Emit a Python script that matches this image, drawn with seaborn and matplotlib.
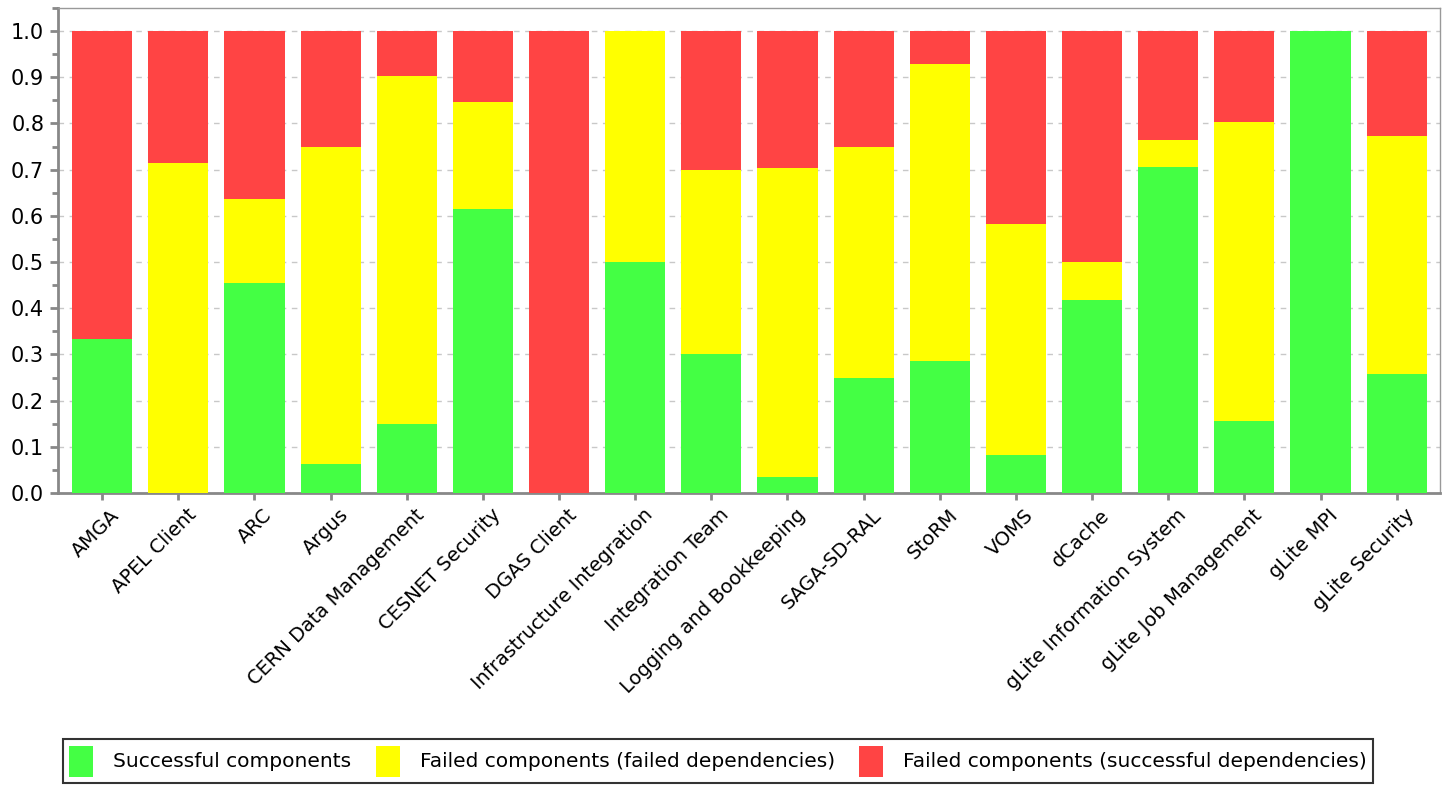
import pandas as pd
import numpy as np
import seaborn as sns
import matplotlib.pyplot as plt
import matplotlib.transforms as mtransforms
from matplotlib.patches import Patch
from matplotlib.ticker import MultipleLocator

# Values (fractions of components per product team)
teams = ['AMGA', 'APEL Client', 'ARC', 'Argus', 'CERN Data Management', 'CESNET Security',
         'DGAS Client', 'Infrastructure Integration', 'Integration Team', 'Logging and Bookkeeping',
         'SAGA-SD-RAL', 'StoRM', 'VOMS', 'dCache', 'gLite Information System',
         'gLite Job Management', 'gLite MPI', 'gLite Security']
successful = [0.333, 0.0, 0.455, 0.0625, 0.15, 0.615, 0.0, 0.5, 0.3, 0.035,
              0.25, 0.286, 0.083, 0.417, 0.706, 0.156, 1.0, 0.258]
failed_deps = [0.0, 0.714, 0.182, 0.6875, 0.753, 0.231, 0.0, 0.5, 0.4, 0.669,
               0.5, 0.643, 0.5, 0.083, 0.059, 0.647, 0.0, 0.515]
failed_ok_deps = [0.667, 0.286, 0.364, 0.25, 0.097, 0.154, 1.0, 0.0, 0.3, 0.296,
                  0.25, 0.071, 0.417, 0.5, 0.235, 0.197, 0.0, 0.227]

labels = ['Successful components', 'Failed components (failed dependencies)',
          'Failed components (successful dependencies)']
colors = ['#44ff44', '#ffff00', '#ff4444']

df = pd.DataFrame({'team': teams, 'ok': successful, 'fdep': failed_deps, 'fok': failed_ok_deps})
df['top_green'] = df['ok']
df['top_yellow'] = df['ok'] + df['fdep']
df['top_red'] = df['top_yellow'] + df['fok']

fig = plt.figure(figsize=(14.47, 7.85), dpi=100)
ax = fig.add_axes([0.0401, 0.372, 0.9551, 0.6178])

# stacked bars: draw cumulative tops from the back to the front
for col, c in [('top_red', colors[2]), ('top_yellow', colors[1]), ('top_green', colors[0])]:
    sns.barplot(data=df, x='team', y=col, color=c, width=0.79, saturation=1,
                edgecolor='none', linewidth=0, ax=ax, zorder=3)

ax.set_xlim(-0.58, 17.57)
ax.set_ylim(0, 1.05)
ax.yaxis.set_major_locator(MultipleLocator(0.1))
ax.yaxis.set_minor_locator(MultipleLocator(0.05))
ax.yaxis.set_major_formatter(plt.FuncFormatter(lambda v, p: f'{v:.1f}'))
ax.grid(axis='y', which='major', linestyle=(0, (4, 4)), color='#c8c8c8', linewidth=1.0, zorder=0)
ax.set_xlabel('')
ax.set_ylabel('')

for s in ['left', 'bottom']:
    ax.spines[s].set_color('#888888')
    ax.spines[s].set_linewidth(2)
for s in ['top', 'right']:
    ax.spines[s].set_color('#999999')
    ax.spines[s].set_linewidth(1)

ax.tick_params(axis='both', which='both', color='#888888', width=2, direction='out')
ax.tick_params(axis='y', which='major', length=6, labelsize=15, pad=4)
ax.tick_params(axis='y', which='minor', length=4)
ax.tick_params(axis='x', length=5, labelsize=14, pad=4)
shift = mtransforms.ScaledTranslation(8 / 100, 0, fig.dpi_scale_trans)
for lab in ax.get_xticklabels():
    lab.set_rotation(45)
    lab.set_ha('right')
    lab.set_rotation_mode('anchor')
    lab.set_transform(lab.get_transform() + shift)

handles = [Patch(facecolor=c, edgecolor='none', label=l) for c, l in zip(colors, labels)]
leg = fig.legend(handles=handles, loc='upper left', bbox_to_anchor=(0.0435, 0.058), ncol=3,
                 fontsize=14.5, frameon=True, fancybox=False, edgecolor='black',
                 handlelength=1.2, handleheight=2.0, handletextpad=1.0, columnspacing=1.2,
                 borderpad=0.3, borderaxespad=0)
leg.get_frame().set_linewidth(1.5)

fig.savefig('out.png', dpi=100)
